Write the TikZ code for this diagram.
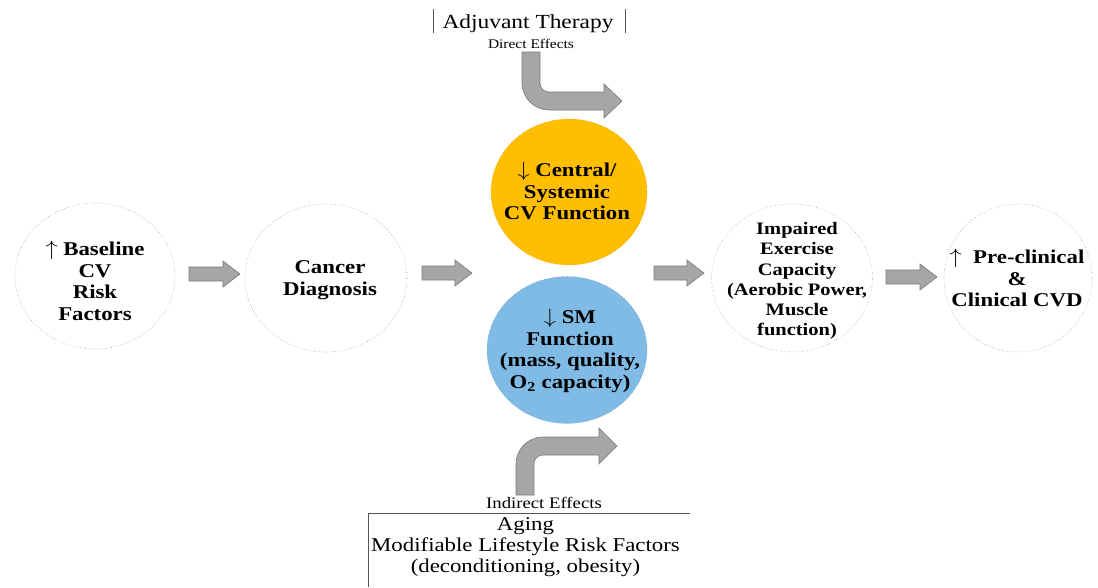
\documentclass[tikz,border=0pt]{standalone}
\usepackage{fontspec}
\setmainfont{Liberation Serif}
\usetikzlibrary{shapes.geometric}
\definecolor{orng}{HTML}{FFBF00}
\definecolor{skyb}{HTML}{80BBE6}
\definecolor{arrfill}{HTML}{A6A6A6}
\definecolor{arrline}{HTML}{7A7A7A}
\definecolor{barcol}{HTML}{555555}
\newcommand{\sx}[1]{\scalebox{1.17}[1]{#1}}
\newcommand{\blockarrow}[3]{%
  \draw[blockarr] (#1,{#3-7}) -- ({#2-17},{#3-7}) -- ({#2-17},{#3-13}) -- (#2,#3)
    -- ({#2-17},{#3+13}) -- ({#2-17},{#3+7}) -- (#1,{#3+7}) -- cycle;}
\begin{document}
\begin{tikzpicture}[x=1pt,y=-1pt,
  circ/.style={ellipse, draw=gray!75, dotted, line width=0.6pt, fill=white, inner sep=0pt},
  colcirc/.style={ellipse, line width=0.6pt, inner sep=0pt},
  bigtxt/.style={font=\fontsize{19.5}{21.7}\selectfont\bfseries, align=center, inner sep=0pt},
  midtxt/.style={font=\fontsize{17.5}{20.3}\selectfont\bfseries, align=center, inner sep=0pt},
  blockarr/.style={fill=arrfill, draw=arrline, line width=0.6pt},
  barline/.style={draw=barcol, line width=0.7pt}]
\useasboundingbox (0,0) rectangle (1098,587);

% circles
\node[circ, minimum width=160pt, minimum height=146pt] (base) at (95,276) {};
\node[circ, minimum width=162pt, minimum height=148pt] (canc) at (326,278) {};
\node[colcirc, fill=orng, draw=orng!85!black, dotted, minimum width=156pt, minimum height=146pt] (cent) at (569,192) {};
\node[colcirc, fill=skyb, draw=skyb!80!black, dotted, minimum width=160pt, minimum height=147pt] (smf) at (567,350) {};
\node[circ, minimum width=161pt, minimum height=148pt] (impa) at (792,278) {};
\node[circ, minimum width=148pt, minimum height=148pt] (prec) at (1018,278) {};

% circle texts
\node[bigtxt] (baset) at (95,281) {\sx{$\uparrow$ Baseline}\\\sx{CV}\\\sx{Risk}\\\sx{Factors}};
\node[bigtxt] (canct) at (330,280) {\sx{Cancer}\\\sx{Diagnosis}};
\node[bigtxt] (centt) at (567,191) {\sx{$\downarrow$ Central/}\\\sx{Systemic}\\\sx{CV Function}};
\node[bigtxt] (smft) at (570,351) {\sx{$\downarrow$ SM}\\\sx{Function}\\\sx{(mass, quality,}\\\sx{O\textsubscript{2} capacity)}};
\node[midtxt] (impat) at (797,281) {\sx{Impaired}\\\sx{Exercise}\\\sx{Capacity}\\\sx{(Aerobic Power,}\\\sx{Muscle}\\\sx{function)}};
\node[bigtxt] (prect) at (1017,278) {\sx{$\uparrow$\ \ Pre-clinical}\\\sx{\&}\\\sx{Clinical CVD}};

% straight block arrows
\blockarrow{189}{240}{274}
\blockarrow{422}{472}{273}
\blockarrow{654}{704}{273}
\blockarrow{886}{937}{277}

% top bent arrow (direct effects)
\draw[blockarr] (522,52) -- (522,83) .. controls (522,97.9) and (534.1,110) .. (549,110)
  -- (604,110) -- (604,118) -- (622,101) -- (604,84) -- (604,92) -- (549,92)
  .. controls (544,92) and (540,88) .. (540,83) -- (540,52) -- cycle;

% bottom bent arrow (indirect effects)
\draw[blockarr] (516,495) -- (516,464) .. controls (516,449.1) and (528.1,437) .. (543,437)
  -- (599,437) -- (599,428) -- (617,446) -- (599,464) -- (599,455) -- (543,455)
  .. controls (538,455) and (534,459) .. (534,464) -- (534,495) -- cycle;

% top box
\draw[barline] (433,9) -- (433,33);
\draw[barline] (625,9) -- (625,33);
\node[anchor=base, inner sep=0pt, font=\fontsize{20}{22}\selectfont] (adj) at (528,28) {\sx{Adjuvant Therapy}};
\node[anchor=base, inner sep=0pt, font=\fontsize{13.2}{14}\selectfont] (dir) at (531,48) {\sx{Direct Effects}};

% bottom box
\draw[barline] (368,587) -- (368,513) -- (690,513);
\node[anchor=base, inner sep=0pt, font=\fontsize{16}{17}\selectfont] (ind) at (544,508) {\sx{Indirect Effects}};
\node[anchor=north, inner sep=0pt, align=center, font=\fontsize{19.5}{21.3}\selectfont] (aging) at (525.5,517)
  {\sx{Aging}\\\sx{Modifiable Lifestyle Risk Factors}\\\sx{(deconditioning, obesity)}};
\end{tikzpicture}
\end{document}
